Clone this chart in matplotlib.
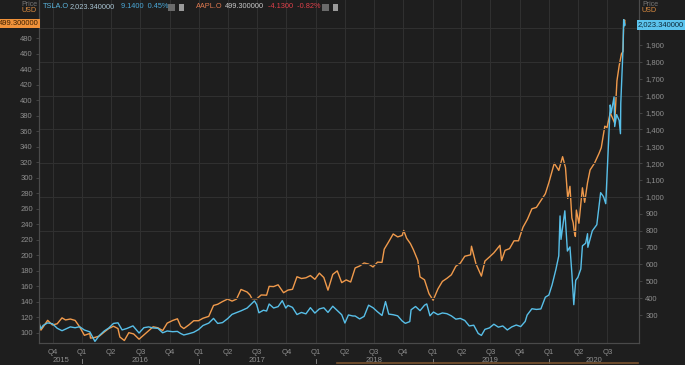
import pandas as pd
import matplotlib.pyplot as plt
from matplotlib.patches import Rectangle
from matplotlib.lines import Line2D
from matplotlib.ticker import FuncFormatter

plt.rcParams['font.family'] = ['Liberation Sans Narrow', 'Liberation Sans', 'DejaVu Sans']

# AAPL.O close (USD, pre-split) - left axis
aapl_dates = [
    "2015-08-20", "2015-08-25", "2015-09-01", "2015-09-15", "2015-09-30", "2015-10-15", "2015-10-30",
    "2015-11-10", "2015-11-25", "2015-12-10", "2015-12-24", "2016-01-08", "2016-01-25", "2016-01-27",
    "2016-02-10", "2016-02-24", "2016-03-10", "2016-03-24", "2016-04-08", "2016-04-22", "2016-04-28",
    "2016-05-12", "2016-05-26", "2016-06-10", "2016-06-27", "2016-07-12", "2016-07-27", "2016-08-10",
    "2016-08-25", "2016-09-09", "2016-09-23", "2016-10-10", "2016-10-25", "2016-11-04", "2016-11-14",
    "2016-11-30", "2016-12-15", "2016-12-30", "2017-01-13", "2017-01-31", "2017-02-15", "2017-02-28",
    "2017-03-15", "2017-03-31", "2017-04-14", "2017-04-28", "2017-05-12", "2017-05-31", "2017-06-09",
    "2017-06-15", "2017-06-30", "2017-07-14", "2017-07-31", "2017-08-08", "2017-08-22", "2017-09-05",
    "2017-09-22", "2017-10-06", "2017-10-20", "2017-11-03", "2017-11-17", "2017-12-01", "2017-12-15",
    "2017-12-29", "2018-01-12", "2018-01-26", "2018-02-08", "2018-02-23", "2018-03-09", "2018-03-23",
    "2018-04-06", "2018-04-20", "2018-05-04", "2018-05-18", "2018-06-01", "2018-06-15", "2018-06-29",
    "2018-07-13", "2018-07-27", "2018-08-03", "2018-08-17", "2018-08-31", "2018-09-14", "2018-09-28",
    "2018-10-03", "2018-10-12", "2018-10-24", "2018-11-02", "2018-11-16", "2018-11-23", "2018-12-07",
    "2018-12-21", "2019-01-03", "2019-01-18", "2019-02-01", "2019-02-15", "2019-03-01", "2019-03-15",
    "2019-03-29", "2019-04-12", "2019-04-30", "2019-05-03", "2019-05-17", "2019-06-03", "2019-06-14",
    "2019-06-28", "2019-07-12", "2019-07-31", "2019-08-05", "2019-08-16", "2019-08-30", "2019-09-13",
    "2019-09-27", "2019-10-11", "2019-10-25", "2019-11-08", "2019-11-22", "2019-12-06", "2019-12-20",
    "2019-12-31", "2020-01-17", "2020-01-31", "2020-02-12", "2020-02-21", "2020-02-28", "2020-03-06",
    "2020-03-12", "2020-03-16", "2020-03-20", "2020-03-23", "2020-03-26", "2020-04-03", "2020-04-14",
    "2020-04-21", "2020-04-30", "2020-05-08", "2020-05-22", "2020-06-05", "2020-06-12", "2020-06-23",
    "2020-06-30", "2020-07-10", "2020-07-24", "2020-07-31", "2020-08-07", "2020-08-14", "2020-08-19",
    "2020-08-21", "2020-08-24", "2020-08-25",
]
aapl_close = [
    112.6, 103.7, 107.7, 116.3, 110.3, 111.9, 119.5,
    116.8, 118.0, 116.2, 108.0, 97.0, 99.4, 93.4,
    94.3, 96.1, 101.2, 105.7, 108.7, 105.7, 94.8,
    90.3, 100.4, 98.8, 92.0, 97.4, 102.9, 108.0,
    106.7, 103.1, 112.7, 116.1, 118.3, 108.8, 105.7,
    110.5, 115.8, 115.8, 119.0, 121.4, 135.5, 137.0,
    140.5, 143.7, 141.1, 143.7, 156.1, 152.8, 149.0,
    144.3, 144.0, 149.0, 148.7, 160.1, 159.8, 162.1,
    151.9, 155.3, 156.3, 172.5, 170.2, 171.1, 174.0,
    169.2, 177.1, 171.5, 155.2, 175.5, 180.0, 164.9,
    168.4, 165.7, 183.8, 186.3, 190.2, 188.8, 185.1,
    191.3, 191.0, 208.0, 217.6, 227.6, 223.8, 225.7,
    232.1, 222.1, 215.1, 207.5, 193.5, 172.3, 168.5,
    150.7, 142.2, 156.8, 166.5, 170.4, 175.0, 186.1,
    190.0, 198.9, 200.7, 211.8, 189.0, 173.3, 192.7,
    197.9, 203.3, 213.0, 193.3, 206.5, 208.7, 218.8,
    218.8, 236.2, 246.6, 260.1, 261.8, 270.7, 279.4,
    293.7, 318.7, 309.5, 327.2, 313.1, 273.4, 289.0,
    248.2, 242.2, 229.2, 224.4, 258.4, 241.4, 287.1,
    268.4, 293.8, 310.1, 318.9, 331.5, 338.8, 366.5,
    364.8, 383.7, 370.5, 425.0, 444.5, 459.6, 462.8,
    497.5, 503.4, 499.3,
]

# TSLA.O close (USD, pre-split) - right axis
tsla_dates = [
    "2015-08-20", "2015-08-25", "2015-09-01", "2015-09-15", "2015-09-30", "2015-10-15", "2015-10-30",
    "2015-11-10", "2015-11-25", "2015-12-10", "2015-12-24", "2016-01-08", "2016-01-25", "2016-02-10",
    "2016-02-24", "2016-03-10", "2016-03-24", "2016-04-08", "2016-04-22", "2016-05-05", "2016-05-20",
    "2016-06-08", "2016-06-27", "2016-07-12", "2016-07-27", "2016-08-10", "2016-08-25", "2016-09-09",
    "2016-09-23", "2016-10-10", "2016-10-25", "2016-11-04", "2016-11-14", "2016-11-30", "2016-12-15",
    "2016-12-30", "2017-01-13", "2017-01-31", "2017-02-15", "2017-02-28", "2017-03-15", "2017-03-31",
    "2017-04-14", "2017-04-28", "2017-05-12", "2017-05-31", "2017-06-09", "2017-06-23", "2017-06-30",
    "2017-07-07", "2017-07-21", "2017-07-31", "2017-08-08", "2017-08-22", "2017-09-05", "2017-09-18",
    "2017-09-29", "2017-10-06", "2017-10-20", "2017-11-03", "2017-11-17", "2017-12-01", "2017-12-15",
    "2017-12-29", "2018-01-12", "2018-01-26", "2018-02-08", "2018-02-23", "2018-03-09", "2018-03-23",
    "2018-04-02", "2018-04-13", "2018-04-27", "2018-05-04", "2018-05-18", "2018-06-01", "2018-06-15",
    "2018-06-29", "2018-07-13", "2018-07-27", "2018-08-07", "2018-08-17", "2018-08-31", "2018-09-14",
    "2018-09-28", "2018-10-08", "2018-10-22", "2018-10-26", "2018-11-09", "2018-11-23", "2018-12-07",
    "2018-12-14", "2018-12-24", "2019-01-04", "2019-01-18", "2019-02-01", "2019-02-15", "2019-03-01",
    "2019-03-15", "2019-03-29", "2019-04-12", "2019-04-26", "2019-05-10", "2019-05-24", "2019-06-03",
    "2019-06-14", "2019-06-28", "2019-07-12", "2019-07-26", "2019-08-09", "2019-08-23", "2019-09-06",
    "2019-09-20", "2019-10-04", "2019-10-18", "2019-10-24", "2019-11-08", "2019-11-22", "2019-12-06",
    "2019-12-20", "2019-12-31", "2020-01-10", "2020-01-22", "2020-01-31", "2020-02-04", "2020-02-07",
    "2020-02-19", "2020-02-27", "2020-03-06", "2020-03-12", "2020-03-18", "2020-03-24", "2020-03-31",
    "2020-04-09", "2020-04-14", "2020-04-24", "2020-04-30", "2020-05-01", "2020-05-15", "2020-05-29",
    "2020-06-10", "2020-06-19", "2020-06-26", "2020-07-02", "2020-07-10", "2020-07-13", "2020-07-22",
    "2020-07-24", "2020-07-30", "2020-08-07", "2020-08-11", "2020-08-12", "2020-08-19", "2020-08-21",
    "2020-08-24", "2020-08-25",
]
tsla_close = [
    242.5, 220.0, 238.6, 253.2, 248.4, 221.3, 206.9,
    216.5, 229.6, 224.5, 230.6, 211.0, 200.2, 143.7,
    179.0, 205.2, 222.6, 250.1, 253.7, 211.5, 220.3,
    235.5, 193.2, 224.8, 229.5, 223.2, 220.9, 194.5,
    205.4, 201.0, 202.8, 190.6, 181.5, 189.4, 197.6,
    213.7, 237.8, 251.9, 279.8, 250.0, 255.0, 278.3,
    304.0, 314.1, 324.8, 341.0, 357.3, 383.5, 361.6,
    313.2, 328.4, 323.5, 365.2, 341.4, 349.6, 385.0,
    341.1, 356.9, 345.1, 302.8, 315.1, 306.9, 343.5,
    311.4, 336.2, 342.9, 315.5, 352.0, 327.2, 301.5,
    252.5, 300.3, 294.1, 294.1, 276.8, 291.8, 358.2,
    343.0, 318.9, 297.2, 379.6, 305.5, 301.7, 295.2,
    264.8, 250.6, 261.0, 330.9, 350.5, 325.8, 358.0,
    365.7, 295.4, 317.7, 302.3, 312.2, 307.9, 294.8,
    275.4, 279.9, 267.7, 235.1, 239.5, 190.6, 179.0,
    214.9, 223.5, 245.4, 228.0, 235.0, 211.4, 229.6,
    240.6, 231.4, 262.0, 299.7, 337.1, 333.0, 335.9,
    405.6, 418.3, 478.2, 569.6, 650.6, 887.1, 748.1,
    917.4, 679.0, 703.5, 546.6, 361.2, 505.0, 524.0,
    573.0, 709.9, 725.2, 781.9, 701.3, 799.2, 835.0,
    1025.0, 1000.9, 959.7, 1208.7, 1544.7, 1497.1, 1592.3,
    1417.0, 1487.5, 1452.7, 1374.4, 1554.8, 1878.5, 2050.0,
    2014.2, 2023.3,
]

quarter_starts = [
    "2015-10-01", "2016-01-01", "2016-04-01", "2016-07-01", "2016-10-01",
    "2017-01-01", "2017-04-01", "2017-07-01", "2017-10-01",
    "2018-01-01", "2018-04-01", "2018-07-01", "2018-10-01",
    "2019-01-01", "2019-04-01", "2019-07-01", "2019-10-01",
    "2020-01-01", "2020-04-01", "2020-07-01",
]
quarter_labels = ["Q4", "Q1", "Q2", "Q3", "Q4", "Q1", "Q2", "Q3", "Q4",
                  "Q1", "Q2", "Q3", "Q4", "Q1", "Q2", "Q3", "Q4", "Q1", "Q2", "Q3"]
year_labels = ["2015", "2016", "2017", "2018", "2019", "2020"]
year_label_dates = ["2015-10-27", "2016-07-01", "2017-07-01", "2018-07-01", "2019-07-01", "2020-05-20"]
year_starts = ["2016-01-01", "2017-01-01", "2018-01-01", "2019-01-01", "2020-01-01"]

bg = "#1e1e1e"
grid_c = "#303030"
text_c = "#8e8e8e"
orange = "#f09a4c"
blue = "#58bfe8"
W, H = 685, 365

fig = plt.figure(figsize=(6.85, 3.65), dpi=100, facecolor=bg)
ax = fig.add_axes([39 / W, 1 - 343 / H, 600 / W, 343 / H])
ax.set_facecolor(bg)
ax2 = ax.twinx()
ax2.patch.set_visible(False)

# grid
for d in quarter_starts:
    ax.axvline(pd.Timestamp(d), color=grid_c, lw=0.8, zorder=0)
for v in range(400, 2001, 200):
    ax2.axhline(v, color=grid_c, lw=0.8, zorder=0)

ax.plot(pd.to_datetime(aapl_dates), aapl_close, color=orange, lw=1.0)
ax2.plot(pd.to_datetime(tsla_dates), tsla_close, color=blue, lw=1.0)

ax.set_xlim(pd.Timestamp("2015-08-19"), pd.Timestamp("2020-10-08"))
ax.set_ylim(87.1, 529.1)
ax2.set_ylim(134.1, 2166.7)

ax.set_xticks(pd.to_datetime(quarter_starts))
ax.set_xticklabels(quarter_labels)
ax.tick_params(axis='x', length=0, pad=4.5, labelsize=5.5, labelcolor=text_c)
ax.set_yticks(range(100, 481, 20))
ax.tick_params(axis='y', length=2.5, width=0.6, color="#4a4a4a", pad=2, labelsize=5.5, labelcolor=text_c)
ax2.set_yticks(range(300, 1901, 100))
ax2.yaxis.set_major_formatter(FuncFormatter(lambda v, p: f"{v:,.0f}"))
ax2.tick_params(axis='y', length=2.5, width=0.6, color="#4a4a4a", pad=2, labelsize=5.5, labelcolor=text_c)

for a in (ax, ax2):
    a.spines['top'].set_visible(False)
    for s in ('left', 'right', 'bottom'):
        a.spines[s].set_color("#4a4a4a")
        a.spines[s].set_linewidth(0.8)

trans = ax.get_xaxis_transform()
for d, lab in zip(year_label_dates, year_labels):
    ax.text(pd.Timestamp(d), -17.5 / 343, lab, transform=trans, ha='center', va='center',
            fontsize=5.5, color=text_c)
for d in year_starts:
    ax.plot([pd.Timestamp(d)] * 2, [-15.5 / 343, -20 / 343], transform=trans,
            color=text_c, lw=0.6, clip_on=False)

def fx(px):
    return px / W

def fy(py):
    return 1 - py / H

# axis headers
for xx, ha in ((37, 'right'), (642, 'left')):
    fig.text(fx(xx), fy(4), "Price", ha=ha, va='center', fontsize=5, color="#777777")
    fig.text(fx(xx), fy(11), "USD", ha=ha, va='center', fontsize=5.2, color="#d88a40")

# legend row
fs = 5.3
fig.text(fx(43), fy(7), "TSLA.O", ha='left', va='center', fontsize=fs, color="#5ab4dc")
fig.text(fx(70), fy(7), "2,023.340000", ha='left', va='center', fontsize=fs, color="#a9c4d2")
fig.text(fx(121), fy(7), "9.1400  0.45%", ha='left', va='center', fontsize=fs, color="#4aa8d8")
fig.text(fx(196), fy(7), "AAPL.O", ha='left', va='center', fontsize=fs, color="#e07a50")
fig.text(fx(225), fy(7), "499.300000", ha='left', va='center', fontsize=fs, color="#c8c8c8")
fig.text(fx(268), fy(7), "-4.1300  -0.82%", ha='left', va='center', fontsize=fs, color="#e0404a")
for x0 in (168, 322):
    fig.patches.append(Rectangle((fx(x0), fy(11)), 7 / W, 7 / H, transform=fig.transFigure,
                                 facecolor="#6a6a6a", edgecolor='none'))
    fig.patches.append(Rectangle((fx(x0 + 11), fy(11)), 5 / W, 7 / H, transform=fig.transFigure,
                                 facecolor="#9a9a9a", edgecolor='none'))

# last value tags
fig.text(fx(19), fy(23.5), "499.300000", ha='center', va='center', fontsize=5.5, color="#3a1e00",
         bbox=dict(boxstyle='square,pad=0.15', facecolor="#f0923a", edgecolor='none'))
fig.text(fx(661), fy(25), "2,023.340000", ha='center', va='center', fontsize=5.5, color="#0e2a3a",
         bbox=dict(boxstyle='square,pad=0.15', facecolor="#5cc4ee", edgecolor='none'))

# range bar at the bottom
fig.lines.append(Line2D([fx(337), fx(638)], [fy(363), fy(363)], transform=fig.transFigure,
                        color="#7a5430", lw=1.2))

fig.savefig("out.png", dpi=100, facecolor=bg)
